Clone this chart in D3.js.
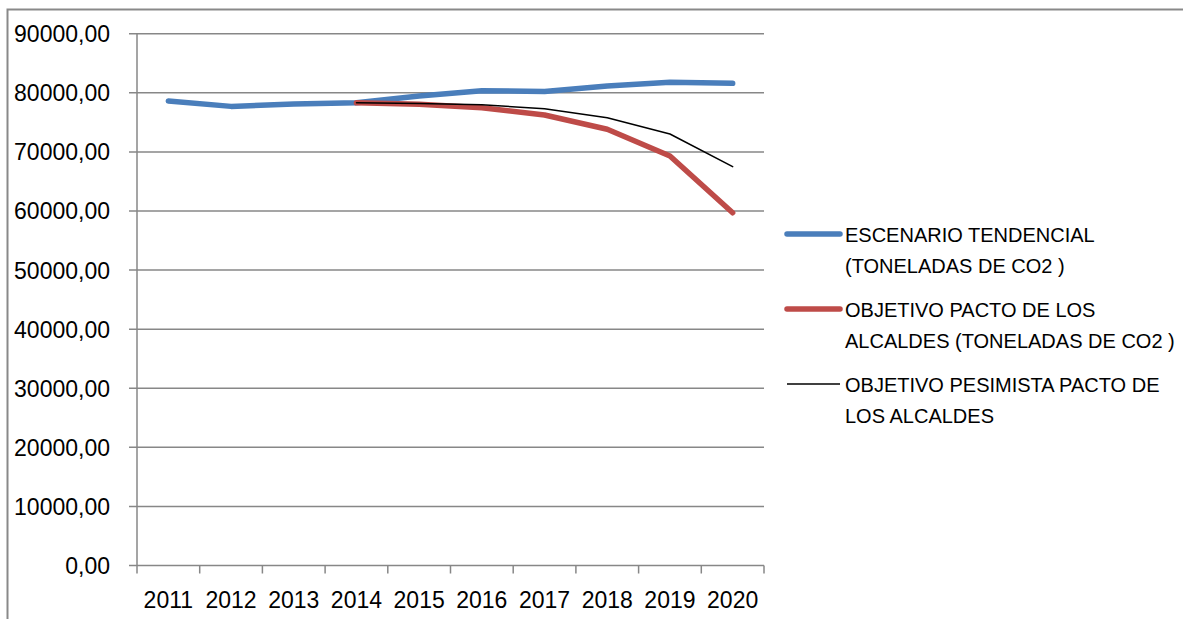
<!DOCTYPE html>
<html>
<head>
<meta charset="utf-8">
<script src="https://cdn.jsdelivr.net/npm/d3@7"></script>
<style>
  body { margin: 0; background: #fff; }
  svg { display: block; font-family: "Liberation Sans", Arial, sans-serif; }
</style>
</head>
<body>
<div id="chart"></div>
<script>
// years on the x axis
let years = ["2011", "2012", "2013", "2014", "2015", "2016", "2017", "2018", "2019", "2020"];

// values (toneladas de CO2)
let tendencial = [78600, 77700, 78100, 78300, 79450, 80350, 80200, 81150, 81770, 81600];
let pacto = [null, null, null, 78300, 78050, 77480, 76240, 73820, 69300, 59700];
let pesimista = [null, null, null, 78300, 78200, 77980, 77300, 75780, 73020, 67500];

let yTicks = [0, 10000, 20000, 30000, 40000, 50000, 60000, 70000, 80000, 90000];

let seriesNames = [
    ["ESCENARIO TENDENCIAL", "(TONELADAS DE CO2 )"],
    ["OBJETIVO PACTO DE LOS", "ALCALDES (TONELADAS DE CO2 )"],
    ["OBJETIVO PESIMISTA PACTO DE", "LOS ALCALDES"]
];

let width = 1183,
    height = 619;

let svg = d3.select("#chart")
    .append("svg")
    .attr("width", width)
    .attr("height", height);

// outer chart border (runs off the right and bottom of the picture)
svg.append("rect")
    .attr("x", 7.5)
    .attr("y", 9.5)
    .attr("width", 1200)
    .attr("height", 700)
    .attr("fill", "none")
    .attr("stroke", "#898989")
    .attr("stroke-width", 2);

let x = d3.scaleBand()
    .domain(years)
    .range([137, 764]);

let y = d3.scaleLinear()
    .domain([0, 90000])
    .range([565.5, 33.7]);

let grey = "#878787";

// horizontal gridlines + y ticks
svg.append("g")
    .selectAll("line")
    .data(yTicks)
    .enter().append("line")
    .attr("x1", 129)
    .attr("x2", 764)
    .attr("y1", d => y(d))
    .attr("y2", d => y(d))
    .attr("stroke", grey)
    .attr("stroke-width", 1.5);

// y axis line
svg.append("line")
    .attr("x1", 137).attr("x2", 137)
    .attr("y1", y(90000)).attr("y2", y(0))
    .attr("stroke", grey)
    .attr("stroke-width", 1.5);

// x tick marks on band edges
let edges = years.map(d => x(d)).concat([x.range()[1]]);
svg.append("g")
    .selectAll("line")
    .data(edges)
    .enter().append("line")
    .attr("x1", d => d).attr("x2", d => d)
    .attr("y1", y(0)).attr("y2", y(0) + 8)
    .attr("stroke", grey)
    .attr("stroke-width", 1.5);

let fmt = d => d3.format(".2f")(d).replace(".", ",");

svg.append("g")
    .selectAll("text")
    .data(yTicks)
    .enter().append("text")
    .attr("x", 110)
    .attr("y", d => y(d) + 8.5)
    .attr("text-anchor", "end")
    .style("font-size", "23px")
    .text(fmt);

svg.append("g")
    .selectAll("text")
    .data(years)
    .enter().append("text")
    .attr("x", d => x(d) + x.bandwidth() / 2)
    .attr("y", 608)
    .attr("text-anchor", "middle")
    .style("font-size", "23px")
    .text(d => d);

let line = d3.line()
    .defined(d => d[1] != null)
    .x(d => x(d[0]) + x.bandwidth() / 2)
    .y(d => y(d[1]));

let series = [
    { values: tendencial, color: "#4A7EBB", w: 5.5 },
    { values: pacto, color: "#BE4B48", w: 5.5 },
    { values: pesimista, color: "#000000", w: 1.5 }
];

series.forEach(function(s) {
    svg.append("path")
        .datum(years.map((yr, i) => [yr, s.values[i]]))
        .attr("d", line)
        .attr("fill", "none")
        .attr("stroke", s.color)
        .attr("stroke-width", s.w)
        .attr("stroke-linecap", "round")
        .attr("stroke-linejoin", "round");
});

// legend
let legendTop = [234, 309, 384];
series.forEach(function(s, i) {
    let g = svg.append("g");
    g.append("line")
        .attr("x1", 787).attr("x2", 840)
        .attr("y1", legendTop[i]).attr("y2", legendTop[i])
        .attr("stroke", s.color)
        .attr("stroke-width", s.w)
        .attr("stroke-linecap", s.w > 2 ? "round" : "butt");
    seriesNames[i].forEach(function(t, j) {
        g.append("text")
            .attr("x", 845)
            .attr("y", legendTop[i] + 8 + j * 30.5)
            .style("font-size", "20px")
            .text(t);
    });
});
</script>
</body>
</html>
